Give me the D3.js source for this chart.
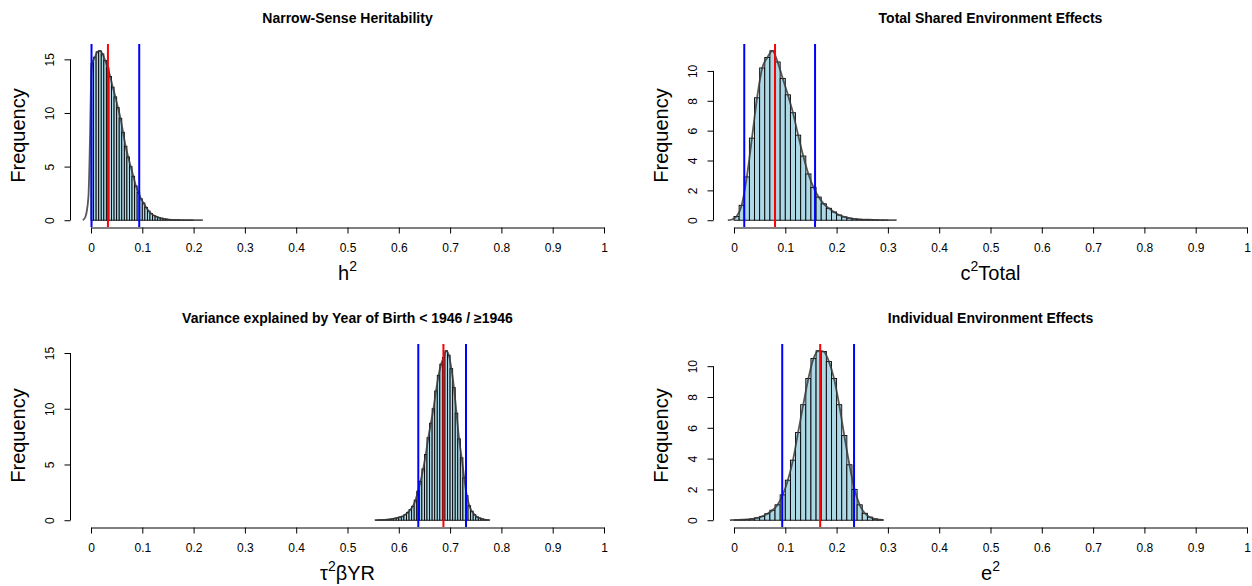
<!DOCTYPE html>
<html>
<head>
<meta charset="utf-8">
<script src="https://cdn.jsdelivr.net/npm/d3@7/dist/d3.min.js"></script>
<style>
  body { margin: 0; background: #fff; }
  svg { display: block; font-family: "Liberation Sans", Arial, sans-serif; }
</style>
</head>
<body>
<svg id="chart" width="1252" height="586"></svg>
<script>
/* gemeenschappelijke x-as */
var xTicks = [0, 0.1, 0.2, 0.3, 0.4, 0.5, 0.6, 0.7, 0.8, 0.9, 1];
var xTickLabels = ["0", "0.1", "0.2", "0.3", "0.4", "0.5", "0.6", "0.7", "0.8", "0.9", "1"];

/* h2: histogram (dichtheid per bin), staarten van de dichtheidscurve, interval en gemiddelde */
var h2Start = 0, h2Width = 0.005;
var h2Hist = [14.6, 15.2, 15.7, 15.8, 15.5, 14.9, 14.2, 13.4, 12.4, 11.5, 10.5, 9.5, 8.2, 6.9, 5.9, 5.0,
  4.1, 3.2, 2.6, 2.0, 1.6, 1.2, 0.85, 0.62, 0.45, 0.33, 0.25, 0.18, 0.12, 0.09, 0.06, 0.04, 0.03,
  0.02, 0.02, 0.01, 0.01, 0.01, 0.01, 0.005];
var h2TailLeft = [[-0.016, 0], [-0.011, 0.3], [-0.005, 2.2], [-0.002, 7.5], [0.0005, 13.5]];
var h2TailRight = [[0.206, 0.003], [0.218, 0]];
var h2Ci = [0.001, 0.094], h2Mean = 0.033;
var h2YTicks = [0, 5, 10, 15];

/* c2 totaal */
var c2Start = 0, c2Width = 0.01;
var c2Hist = [0.25, 1.0, 2.9, 5.5, 8.2, 10.2, 10.9, 11.35, 10.6, 9.5, 8.4, 7.2, 5.7, 4.3, 3.1, 2.2,
  1.55, 1.1, 0.8, 0.55, 0.35, 0.22, 0.14, 0.09, 0.06, 0.04, 0.03, 0.02, 0.01, 0.01];
var c2TailLeft = [[-0.012, 0], [-0.004, 0.05]];
var c2TailRight = [[0.305, 0.003], [0.317, 0]];
var c2Ci = [0.020, 0.158], c2Mean = 0.080;
var c2YTicks = [0, 2, 4, 6, 8, 10];

/* tau2 beta YR */
var tauStart = 0.555, tauWidth = 0.005;
var tauHist = [0.01, 0.02, 0.03, 0.04, 0.06, 0.08, 0.12, 0.17, 0.22, 0.28, 0.35, 0.5, 0.7, 0.95, 1.25,
  1.8, 2.6, 3.5, 4.6, 5.9, 7.4, 8.7, 10.0, 11.6, 13.0, 14.0, 14.6, 15.2, 14.8, 13.6, 11.9, 9.6, 7.3,
  5.6, 3.8, 2.2, 1.3, 0.8, 0.5, 0.3, 0.2, 0.12, 0.06, 0.03];
var tauTailLeft = [[0.553, 0]];
var tauTailRight = [[0.778, 0]];
var tauCi = [0.638, 0.731], tauMean = 0.687;
var tauYTicks = [0, 5, 10, 15];

/* e2 */
var e2Start = 0, e2Width = 0.01;
var e2Hist = [0.02, 0.03, 0.05, 0.08, 0.15, 0.25, 0.42, 0.65, 1.0, 1.65, 2.6, 3.9, 5.7, 7.5, 9.2, 10.5,
  11.0, 10.95, 10.3, 9.2, 7.5, 5.5, 3.6, 2.0, 1.0, 0.45, 0.2, 0.08, 0.03];
var e2TailLeft = [[-0.008, 0]];
var e2TailRight = [[0.292, 0]];
var e2Ci = [0.094, 0.234], e2Mean = 0.168;
var e2YTicks = [0, 2, 4, 6, 8, 10];

var svg = d3.select("#chart");
svg.append("rect").attr("width", 1252).attr("height", 586).attr("fill", "#fff");

/* plotgebied binnen een paneel */
var plot = {left: 70.5, right: 624.5, top: 44, bottom: 227};

function drawPanel(p) {
  var g = svg.append("g").attr("transform", "translate(" + p.dx + "," + p.dy + ")");

  var x = d3.scaleLinear().domain([0, 1]).range([91, 604]);

  var dens = p.tailL.concat(p.hist.map(function(v, i) {
    return [p.start + (i + 0.5) * p.width, v];
  })).concat(p.tailR);

  var ymax = d3.max(dens, function(d) { return d[1]; });
  var pad = (plot.bottom - plot.top) * 0.04 / 1.08;
  var y = d3.scaleLinear().domain([0, ymax]).range([plot.bottom - pad, plot.top + pad]);

  /* titel */
  g.append("text")
    .attr("x", (plot.left + plot.right) / 2)
    .attr("y", 23)
    .attr("text-anchor", "middle")
    .style("font-weight", "bold")
    .style("font-size", "14px")
    .text(p.title);

  /* bars */
  g.selectAll(".bar")
    .data(p.hist)
    .enter().append("rect")
      .attr("class", "bar")
      .attr("x", function(d, i) { return x(p.start + i * p.width); })
      .attr("y", function(d) { return y(d); })
      .attr("width", x(p.width) - x(0))
      .attr("height", function(d) { return y(0) - y(d); })
      .attr("fill", "#ADD8E6")
      .attr("stroke", "#000")
      .attr("stroke-width", 0.9);

  /* dichtheidscurve */
  var line = d3.line()
    .x(function(d) { return x(d[0]); })
    .y(function(d) { return y(d[1]); })
    .curve(d3.curveMonotoneX);

  g.append("path")
    .datum(dens)
    .attr("d", line)
    .attr("fill", "none")
    .attr("stroke", "#3a3a3a")
    .attr("stroke-opacity", 0.85)
    .attr("stroke-width", 1.8);

  /* verticale lijnen */
  g.selectAll(".ci")
    .data(p.ci)
    .enter().append("line")
      .attr("x1", function(d) { return x(d); })
      .attr("x2", function(d) { return x(d); })
      .attr("y1", plot.top)
      .attr("y2", plot.bottom)
      .attr("stroke", "#0000FF")
      .attr("stroke-width", 2);

  g.append("line")
    .attr("x1", x(p.mean))
    .attr("x2", x(p.mean))
    .attr("y1", plot.top)
    .attr("y2", plot.bottom)
    .attr("stroke", "#FF0000")
    .attr("stroke-width", 2);

  /* x as */
  var xAxis = g.append("g")
    .attr("transform", "translate(0," + (plot.bottom + 0.5) + ")")
    .call(d3.axisBottom(x)
      .tickValues(xTicks)
      .tickFormat(function(d, i) { return xTickLabels[i]; })
      .tickSize(6)
      .tickSizeOuter(0)
      .tickPadding(10));
  xAxis.selectAll("text").style("font-size", "12px").attr("fill", "#000");
  xAxis.select(".domain").attr("stroke", "#000");
  xAxis.selectAll(".tick line").attr("stroke", "#000");
  xAxis.attr("font-family", null);

  /* y as */
  var yAxis = g.append("g")
    .attr("transform", "translate(" + plot.left + ",0)")
    .call(d3.axisLeft(y).tickValues(p.yTicks).tickSize(6).tickSizeOuter(0));
  yAxis.select(".domain").remove();
  yAxis.append("line")
    .attr("y1", y(0))
    .attr("y2", y(p.yTicks[p.yTicks.length - 1]))
    .attr("stroke", "#000");
  yAxis.selectAll(".tick line").attr("stroke", "#000");
  yAxis.selectAll("text")
    .attr("transform", "rotate(-90)")
    .attr("x", 0)
    .attr("y", -17)
    .attr("dy", 0)
    .attr("text-anchor", "middle")
    .attr("fill", "#000")
    .style("font-size", "12px");
  yAxis.attr("font-family", null);

  /* as labels */
  g.append("text")
    .attr("transform", "translate(25," + ((plot.top + plot.bottom) / 2) + ") rotate(-90)")
    .attr("text-anchor", "middle")
    .style("font-size", "20px")
    .text("Frequency");

  var xl = g.append("text")
    .attr("x", (plot.left + plot.right) / 2)
    .attr("y", 280)
    .attr("text-anchor", "middle")
    .style("font-size", "20px");
  p.label.forEach(function(part) {
    var t = xl.append("tspan").text(part[0]);
    if (part[1] === "sup") t.attr("dy", -9).style("font-size", "14px");
    if (part[1] === "back") t.attr("dy", 9);
  });
}

var panels = [
  {dx: 0, dy: 0, title: "Narrow-Sense Heritability", label: [["h"], ["2", "sup"]],
   start: h2Start, width: h2Width, hist: h2Hist, tailL: h2TailLeft, tailR: h2TailRight,
   ci: h2Ci, mean: h2Mean, yTicks: h2YTicks},
  {dx: 643, dy: 0, title: "Total Shared Environment Effects", label: [["c"], ["2", "sup"], ["Total", "back"]],
   start: c2Start, width: c2Width, hist: c2Hist, tailL: c2TailLeft, tailR: c2TailRight,
   ci: c2Ci, mean: c2Mean, yTicks: c2YTicks},
  {dx: 0, dy: 300, title: "Variance explained by Year of Birth < 1946 / \u22651946",
   label: [["\u03c4"], ["2", "sup"], ["\u03b2YR", "back"]],
   start: tauStart, width: tauWidth, hist: tauHist, tailL: tauTailLeft, tailR: tauTailRight,
   ci: tauCi, mean: tauMean, yTicks: tauYTicks},
  {dx: 643, dy: 300, title: "Individual Environment Effects", label: [["e"], ["2", "sup"]],
   start: e2Start, width: e2Width, hist: e2Hist, tailL: e2TailLeft, tailR: e2TailRight,
   ci: e2Ci, mean: e2Mean, yTicks: e2YTicks}
];

panels.forEach(drawPanel);
</script>
</body>
</html>
